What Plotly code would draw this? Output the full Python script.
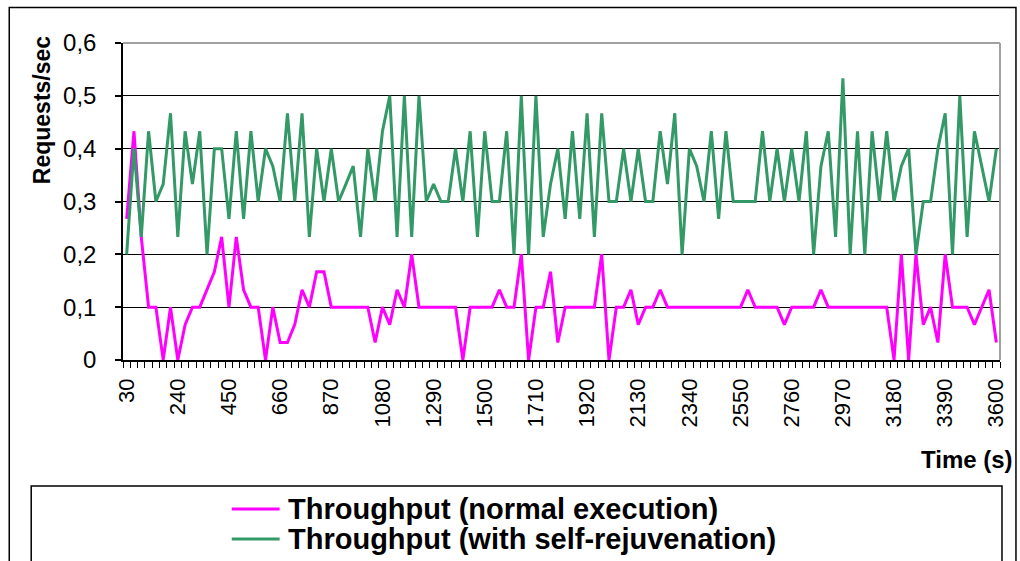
import plotly.graph_objects as go

# Time categories (s)
time_s = list(range(30, 3601, 30))

# Throughput without rejuvenation (requests/sec)
normal = [
    0.267, 0.433, 0.233, 0.1, 0.1, 0.0, 0.1, 0.0, 0.067, 0.1,
    0.1, 0.133, 0.167, 0.233, 0.1, 0.233, 0.133, 0.1, 0.1, 0.0,
    0.1, 0.033, 0.033, 0.067, 0.133, 0.1, 0.167, 0.167, 0.1, 0.1,
    0.1, 0.1, 0.1, 0.1, 0.033, 0.1, 0.067, 0.133, 0.1, 0.2,
    0.1, 0.1, 0.1, 0.1, 0.1, 0.1, 0.0, 0.1, 0.1, 0.1,
    0.1, 0.133, 0.1, 0.1, 0.2, 0.0, 0.1, 0.1, 0.167, 0.033,
    0.1, 0.1, 0.1, 0.1, 0.1, 0.2, 0.0, 0.1, 0.1, 0.133,
    0.067, 0.1, 0.1, 0.133, 0.1, 0.1, 0.1, 0.1, 0.1, 0.1,
    0.1, 0.1, 0.1, 0.1, 0.1, 0.133, 0.1, 0.1, 0.1, 0.1,
    0.067, 0.1, 0.1, 0.1, 0.1, 0.133, 0.1, 0.1, 0.1, 0.1,
    0.1, 0.1, 0.1, 0.1, 0.1, 0.0, 0.2, 0.0, 0.2, 0.067,
    0.1, 0.033, 0.2, 0.1, 0.1, 0.1, 0.067, 0.1, 0.133, 0.033,
]

# Throughput with self-rejuvenation (requests/sec)
rejuv = [
    0.2, 0.4, 0.233, 0.433, 0.3, 0.333, 0.467, 0.233, 0.433, 0.333,
    0.433, 0.2, 0.4, 0.4, 0.267, 0.433, 0.267, 0.433, 0.3, 0.4,
    0.367, 0.3, 0.467, 0.3, 0.467, 0.233, 0.4, 0.3, 0.4, 0.3,
    0.333, 0.367, 0.233, 0.4, 0.3, 0.433, 0.5, 0.233, 0.5, 0.233,
    0.5, 0.3, 0.333, 0.3, 0.3, 0.4, 0.3, 0.433, 0.233, 0.433,
    0.3, 0.3, 0.433, 0.2, 0.5, 0.2, 0.5, 0.233, 0.333, 0.4,
    0.267, 0.433, 0.267, 0.467, 0.233, 0.467, 0.3, 0.3, 0.4, 0.3,
    0.4, 0.3, 0.3, 0.433, 0.333, 0.467, 0.2, 0.4, 0.367, 0.3,
    0.433, 0.267, 0.433, 0.3, 0.3, 0.3, 0.3, 0.433, 0.3, 0.4,
    0.3, 0.4, 0.3, 0.433, 0.2, 0.367, 0.433, 0.233, 0.533, 0.2,
    0.433, 0.2, 0.433, 0.3, 0.433, 0.3, 0.367, 0.4, 0.2, 0.3,
    0.3, 0.4, 0.467, 0.2, 0.5, 0.233, 0.433, 0.367, 0.3, 0.4,
]

x_tick_vals = list(range(30, 3601, 210))
y_tick_vals = [0, 0.1, 0.2, 0.3, 0.4, 0.5, 0.6]
y_tick_text = ["0", "0,1", "0,2", "0,3", "0,4", "0,5", "0,6"]

series_names = ["Throughput (normal execution)", "Throughput (with self-rejuvenation)"]
series_colors = ["#FF00FF", "#339966"]

FONT = "Liberation Sans, Arial, sans-serif"

fig = go.Figure()
fig.add_trace(go.Scatter(x=time_s, y=normal, mode="lines", name=series_names[0],
                         line=dict(color=series_colors[0], width=3)))
fig.add_trace(go.Scatter(x=time_s, y=rejuv, mode="lines", name=series_names[1],
                         line=dict(color=series_colors[1], width=3)))

L, R, T, B = 123, 18, 43, 201
W, H = 1020, 561
pw, ph = W - L - R, H - T - B


def px(xp):
    return (xp - L) / pw


def py(yp):
    return (H - B - yp) / ph


shapes = [
    # outer chart frame
    dict(type="rect", xref="paper", yref="paper", x0=px(9), x1=px(1018), y0=py(575), y1=py(7.5),
         line=dict(color="black", width=1.5), layer="below"),
    # plot area border (top/right, gray)
    dict(type="line", xref="paper", yref="paper", x0=0, x1=1, y0=1, y1=1,
         line=dict(color="#A0A0A0", width=2), layer="above"),
    dict(type="line", xref="paper", yref="paper", x0=1, x1=1, y0=0, y1=1,
         line=dict(color="#A0A0A0", width=2), layer="above"),
    # legend box
    dict(type="rect", xref="paper", yref="paper", x0=px(31), x1=px(1004), y0=py(575), y1=py(486),
         line=dict(color="black", width=1.5)),
]

legend_y = [509, 539]
annotations = []
for name, color, ly in zip(series_names, series_colors, legend_y):
    shapes.append(dict(type="line", xref="paper", yref="paper", x0=px(232), x1=px(280),
                       y0=py(ly), y1=py(ly), line=dict(color=color, width=3)))
    annotations.append(dict(text="<b>%s</b>" % name, xref="paper", yref="paper",
                            x=px(286), y=py(ly), xanchor="left", yanchor="middle",
                            showarrow=False, font=dict(family=FONT, size=29, color="black")))

annotations.append(dict(text="<b>Requests/sec</b>", xref="paper", yref="paper",
                        x=px(42), y=py(110), textangle=-90, showarrow=False,
                        xanchor="center", yanchor="middle",
                        font=dict(family=FONT, size=23, color="black")))
annotations.append(dict(text="<b>Time (s)</b>", xref="paper", yref="paper",
                        x=px(1017), y=py(459), xanchor="right", yanchor="middle",
                        showarrow=False, font=dict(family=FONT, size=24, color="black")))

fig.update_layout(
    width=W, height=H,
    margin=dict(l=L, r=R, t=T, b=B, pad=0),
    paper_bgcolor="white", plot_bgcolor="white",
    showlegend=False,
    shapes=shapes, annotations=annotations,
    font=dict(family=FONT, color="black"),
)

fig.update_xaxes(
    range=[15, 3615], tickvals=x_tick_vals, ticktext=[str(v) for v in x_tick_vals],
    tickangle=-90, tickfont=dict(family=FONT, size=22, color="black"),
    ticks="outside", ticklen=6, tickcolor="rgba(0,0,0,0)",
    showgrid=False, zeroline=False,
    showline=True, linecolor="black", linewidth=1.5,
    minor=dict(tickvals=list(range(15, 3616, 30)), ticks="outside", ticklen=6,
               tickcolor="black", tickwidth=1, showgrid=False),
    ticklabelstandoff=2,
)
fig.update_yaxes(
    range=[0, 0.6], tickvals=y_tick_vals, ticktext=y_tick_text,
    tickfont=dict(family=FONT, size=24, color="black"),
    ticks="outside", ticklen=6, tickcolor="black", tickwidth=1.5,
    showgrid=True, gridcolor="black", gridwidth=1.2, zeroline=False,
    showline=True, linecolor="black", linewidth=1.5,
    ticklabelstandoff=14,
)

fig.write_html(
    "out.html",
    config={"displayModeBar": False},
    post_script="document.body.style.margin='0';document.body.style.overflow='hidden';",
)
